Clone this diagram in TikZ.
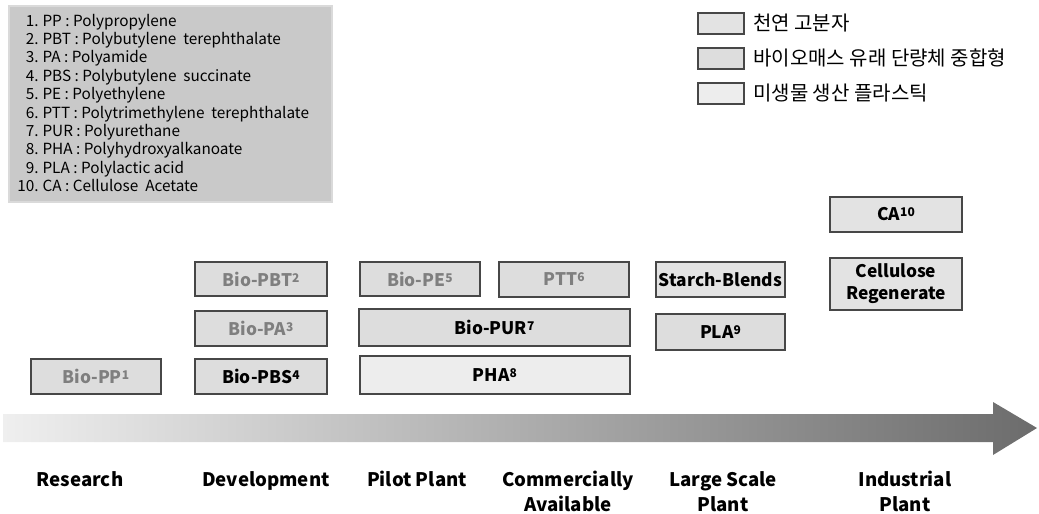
\documentclass[tikz,border=0pt]{standalone}
\usepackage{fontspec}
\setmainfont{Noto Sans CJK KR}
\definecolor{bordergray}{HTML}{474747}
\definecolor{natfill}{HTML}{E3E3E3}
\definecolor{monofill}{HTML}{DDDDDD}
\definecolor{microfill}{HTML}{EDEDED}
\definecolor{dimtext}{HTML}{7F7F7F}
\definecolor{legendfill}{HTML}{C9C9C9}
\definecolor{legendline}{HTML}{DADADA}
\definecolor{arrowL}{HTML}{EFEFEF}
\definecolor{arrowR}{HTML}{6C6C6C}
\newcommand\supnum[1]{\raisebox{3pt}{\fontsize{9}{10}\selectfont #1}}
\begin{document}
\begin{tikzpicture}[x=0.75pt,y=-0.75pt,
  sz/.style 2 args={minimum width=#1*0.75pt, minimum height=#2*0.75pt},
  stage/.style={draw=bordergray, line width=1pt, inner sep=0pt,
    font=\fontsize{13}{16.5}\selectfont\bfseries},
  natural/.style={stage, fill=natfill},
  mono/.style={stage, fill=monofill},
  micro/.style={stage, fill=microfill},
  dim/.style={text=dimtext},
  keybox/.style={draw=bordergray, line width=1pt, inner sep=0pt, sz={46}{21}},
  keytext/.style={anchor=west, inner sep=0pt, font=\fontsize{15}{18}\selectfont},
  phase/.style={font=\fontsize{14}{18.75}\selectfont\bfseries, align=center, anchor=north, inner sep=0pt}
]
\useasboundingbox (0,0) rectangle (1039,514);

% abbreviation legend
\node[fill=legendfill, draw=legendline, line width=0.8pt, inner sep=0pt, sz={323}{196}] (abbr) at (170.5,104) {};
\node[anchor=north west, inner sep=0pt, font=\fontsize{11.5}{13.8}\selectfont] (abbrtext) at (17,13)
{\begin{tabular}{@{}r@{\hspace{3pt}}l@{}}
1. & PP\ :\ Polypropylene\\
2. & PBT\ :\ Polybutylene\ \ terephthalate\\
3. & PA\ :\ Polyamide\\
4. & PBS\ :\ Polybutylene\ \ succinate\\
5. & PE\ :\ Polyethylene\\
6. & PTT\ :\ Polytrimethylene\ \ terephthalate\\
7. & PUR\ :\ Polyurethane\\
8. & PHA\ :\ Polyhydroxyalkanoate\\
9. & PLA\ :\ Polylactic acid\\
10. & CA\ :\ Cellulose\ \ Acetate
\end{tabular}};

% category key
\node[keybox, fill=natfill] (k1) at (721,23.5) {};
\node[keybox, fill=monofill] (k2) at (721,58.5) {};
\node[keybox, fill=microfill] (k3) at (721,93.5) {};
\node[keytext] (t1) at (753,23) {천연 고분자};
\node[keytext] (t2) at (753,58) {바이오매스 유래 단량체 중합형};
\node[keytext] (t3) at (753,93) {미생물 생산 플라스틱};

% stage boxes
\node[mono, dim, sz={130}{35}] (pp) at (96,376.5) {Bio-PP\supnum{1}};
\node[mono, sz={132}{35}] (pbs) at (261,376.5) {Bio-PBS\supnum{4}};
\node[mono, dim, sz={132}{35}] (pa) at (261,328.5) {Bio-PA\supnum{3}};
\node[mono, dim, sz={132}{34}] (pbt) at (261,279) {Bio-PBT\supnum{2}};
\node[mono, dim, sz={120}{34}] (pe) at (420,279) {Bio-PE\supnum{5}};
\node[mono, dim, sz={130}{35}] (ptt) at (564,279.5) {PTT\supnum{6}};
\node[mono, sz={271}{37}] (pur) at (494.5,327.5) {Bio-PUR\supnum{7}};
\node[micro, sz={270}{38}] (pha) at (495,375) {PHA\supnum{8}};
\node[natural, sz={129}{35}] (starch) at (720.5,279.5) {Starch-Blends};
\node[mono, sz={129}{36}] (pla) at (720.5,332) {PLA\supnum{9}};
\node[natural, sz={132}{35}] (ca) at (896,214.5) {CA\supnum{10}};
\node[natural, sz={132}{52}, align=center] (cell) at (896,284) {Cellulose\\Regenerate};

% progress arrow
\shade[left color=arrowL, right color=arrowR]
  (3,414) -- (993,414) -- (993,402) -- (1037,428) -- (993,455) -- (993,442) -- (3,442) -- cycle;

% phases
\node[phase] (research) at (80,471) {Research};
\node[phase] (development) at (266,471) {Development};
\node[phase] (pilot) at (417,471) {Pilot Plant};
\node[phase] (commercial) at (568,471) {Commercially\\Available};
\node[phase] (large) at (723,471) {Large Scale\\Plant};
\node[phase] (industrial) at (905,471) {Industrial\\Plant};
\end{tikzpicture}
\end{document}
